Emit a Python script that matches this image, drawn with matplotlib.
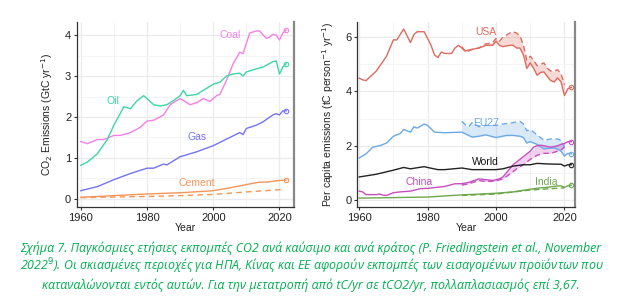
import numpy as np
import matplotlib
matplotlib.use("Agg")
import matplotlib.pyplot as plt
from matplotlib.ticker import MultipleLocator

# ---- fuel emissions (GtC/yr) ----
coal_years = [1960, 1962, 1965, 1967, 1970, 1972, 1975, 1978, 1980, 1982, 1985, 1987, 1990, 1993,
              1995, 1997, 1999, 2001, 2002, 2004, 2006, 2008, 2009, 2010, 2011, 2013, 2014, 2016,
              2017, 2018, 2019, 2020, 2021, 2022]
coal = [1.40, 1.35, 1.45, 1.45, 1.55, 1.55, 1.62, 1.75, 1.90, 1.92, 2.05, 2.30, 2.45, 2.30,
        2.35, 2.45, 2.38, 2.52, 2.55, 2.90, 3.30, 3.58, 3.55, 3.80, 4.05, 4.10, 4.10, 3.92,
        3.95, 4.02, 4.00, 3.88, 4.05, 4.12]

oil_years = [1960, 1962, 1965, 1968, 1970, 1972, 1973, 1975, 1977, 1979, 1980, 1982, 1984, 1986,
             1988, 1990, 1991, 1992, 1995, 1997, 2000, 2002, 2004, 2006, 2008, 2009, 2010, 2012,
             2015, 2018, 2019, 2020, 2021, 2022]
oil = [0.82, 0.90, 1.10, 1.45, 1.80, 2.10, 2.25, 2.20, 2.40, 2.52, 2.45, 2.30, 2.27, 2.30,
       2.40, 2.52, 2.65, 2.52, 2.55, 2.65, 2.80, 2.85, 3.00, 3.05, 3.07, 3.00, 3.10, 3.15,
       3.22, 3.35, 3.37, 3.05, 3.22, 3.30]

gas_years = [1960, 1965, 1970, 1975, 1980, 1982, 1985, 1986, 1990, 1995, 2000, 2005, 2008, 2009,
             2010, 2013, 2015, 2018, 2019, 2020, 2021, 2022]
gas = [0.20, 0.30, 0.47, 0.62, 0.75, 0.75, 0.85, 0.83, 1.03, 1.15, 1.30, 1.50, 1.62, 1.57,
       1.72, 1.80, 1.88, 2.05, 2.08, 2.05, 2.15, 2.15]

cement_years = [1960, 1970, 1980, 1990, 2000, 2005, 2010, 2014, 2016, 2020, 2022]
cement = [0.04, 0.08, 0.12, 0.15, 0.20, 0.27, 0.35, 0.41, 0.41, 0.45, 0.46]
cement_carb_years = [1960, 1980, 1990, 2000, 2010, 2021]
cement_carb = [0.03, 0.06, 0.08, 0.11, 0.17, 0.23]

# ---- per capita emissions (tC/person/yr) ----
usa_years = [1960, 1961, 1962, 1965, 1968, 1970, 1971, 1973, 1974, 1975, 1976, 1977, 1979, 1980,
             1981, 1982, 1983, 1984, 1985, 1987, 1988, 1989, 1990, 1991, 1993, 1995, 1997, 1999,
             2000, 2001, 2002, 2004, 2005, 2006, 2007, 2008, 2009, 2010, 2011, 2012, 2013, 2014,
             2015, 2016, 2017, 2018, 2019, 2020, 2021, 2022]
usa = [4.49, 4.43, 4.40, 4.75, 5.30, 5.90, 5.90, 6.30, 6.05, 5.80, 6.10, 6.20, 6.20, 5.95,
       5.70, 5.35, 5.25, 5.45, 5.40, 5.40, 5.60, 5.70, 5.60, 5.50, 5.55, 5.60, 5.70, 5.70,
       5.85, 5.70, 5.65, 5.70, 5.70, 5.60, 5.60, 5.35, 4.85, 5.05, 4.85, 4.60, 4.70, 4.72,
       4.55, 4.40, 4.35, 4.50, 4.35, 3.85, 4.10, 4.15]
usa_cons_years = [1990, 1991, 1993, 1995, 1997, 1999, 2000, 2001, 2002, 2004, 2005, 2006, 2007,
                  2008, 2009, 2010, 2011, 2012, 2013, 2014, 2015, 2016, 2017, 2018, 2019, 2020]
usa_cons = [5.65, 5.45, 5.55, 5.60, 5.75, 5.80, 5.95, 5.85, 6.00, 6.15, 6.20, 6.15, 6.05,
            5.70, 5.15, 5.30, 5.15, 4.95, 5.00, 5.05, 4.85, 4.75, 4.75, 4.80, 4.65, 4.25]

eu_years = [1960, 1962, 1964, 1966, 1968, 1970, 1972, 1973, 1975, 1976, 1977, 1979, 1980, 1982,
            1985, 1990, 1993, 1995, 1997, 2000, 2003, 2005, 2007, 2008, 2009, 2010, 2012, 2014,
            2015, 2017, 2018, 2019, 2020, 2021, 2022]
eu = [1.55, 1.70, 1.95, 2.00, 2.10, 2.35, 2.45, 2.60, 2.50, 2.70, 2.65, 2.80, 2.75, 2.50,
      2.48, 2.50, 2.32, 2.35, 2.40, 2.30, 2.38, 2.38, 2.35, 2.30, 2.10, 2.15, 2.05, 1.88,
      1.90, 1.92, 1.88, 1.80, 1.62, 1.72, 1.70]
eu_cons_years = [1990, 1991, 1992, 1993, 1995, 1997, 2000, 2002, 2005, 2007, 2008, 2009, 2010,
                 2011, 2012, 2014, 2016, 2018, 2019, 2020]
eu_cons = [2.90, 2.78, 2.70, 2.85, 2.70, 2.75, 2.75, 2.80, 2.85, 2.90, 2.80, 2.55, 2.60,
           2.50, 2.40, 2.20, 2.25, 2.25, 2.20, 1.95]

world_years = [1960, 1965, 1970, 1973, 1975, 1979, 1980, 1983, 1985, 1990, 1993, 1995, 2000, 2002,
               2005, 2008, 2010, 2012, 2015, 2018, 2019, 2020, 2021, 2022]
world = [0.85, 0.95, 1.10, 1.20, 1.15, 1.23, 1.20, 1.12, 1.12, 1.18, 1.12, 1.12, 1.12, 1.15,
         1.25, 1.30, 1.30, 1.35, 1.33, 1.32, 1.32, 1.25, 1.30, 1.30]

china_years = [1960, 1961, 1962, 1965, 1966, 1967, 1968, 1970, 1972, 1975, 1978, 1980, 1985, 1988,
               1990, 1992, 1995, 1997, 1999, 2000, 2001, 2002, 2003, 2004, 2005, 2007, 2008, 2010,
               2011, 2012, 2013, 2014, 2015, 2016, 2017, 2018, 2019, 2020, 2021, 2022]
china = [0.33, 0.30, 0.20, 0.20, 0.22, 0.18, 0.17, 0.27, 0.30, 0.33, 0.42, 0.43, 0.50, 0.60,
         0.60, 0.65, 0.78, 0.75, 0.72, 0.75, 0.78, 0.85, 1.00, 1.15, 1.30, 1.50, 1.60, 1.80,
         1.95, 2.00, 2.02, 2.00, 1.97, 1.95, 1.97, 2.00, 2.05, 2.08, 2.15, 2.15]
china_cons_years = [1990, 1992, 1995, 1997, 2000, 2002, 2004, 2006, 2008, 2010, 2012, 2014, 2016,
                    2018, 2019, 2020]
china_cons = [0.55, 0.60, 0.72, 0.68, 0.70, 0.78, 0.95, 1.15, 1.30, 1.50, 1.65, 1.72, 1.72,
              1.80, 1.85, 1.95]

india_years = [1960, 1970, 1980, 1990, 2000, 2005, 2010, 2013, 2015, 2018, 2019, 2020, 2021, 2022]
india = [0.07, 0.09, 0.11, 0.19, 0.25, 0.30, 0.40, 0.45, 0.47, 0.52, 0.52, 0.47, 0.52, 0.55]
india_cons_years = [1990, 2000, 2010, 2020]
india_cons = [0.17, 0.22, 0.37, 0.45]

caption = [
    "Σχήμα 7. Παγκόσμιες ετήσιες εκπομπές CO2 ανά καύσιμο και ανά κράτος (P. Friedlingstein et al., November",
    "2022$^{9}$). Οι σκιασμένες περιοχές για ΗΠΑ, Κίνας και ΕΕ αφορούν εκπομπές των εισαγομένων προϊόντων που",
    "καταναλώνονται εντός αυτών. Για την μετατροπή από tC/yr σε tCO2/yr, πολλαπλασιασμός επί 3,67.",
]

plt.rcParams["font.family"] = ["Liberation Sans", "DejaVu Sans"]


def style(ax, ymajor):
    ax.set_facecolor("white")
    ax.xaxis.set_major_locator(MultipleLocator(20))
    ax.xaxis.set_minor_locator(MultipleLocator(10))
    ax.yaxis.set_major_locator(MultipleLocator(ymajor))
    ax.yaxis.set_minor_locator(MultipleLocator(ymajor / 2))
    ax.grid(True, which="major", color="#ebebeb", lw=0.9)
    ax.grid(True, which="minor", color="#f3f3f3", lw=0.6)
    ax.set_axisbelow(True)
    ax.spines["top"].set_visible(False)
    ax.spines["right"].set_color("#888888")
    ax.spines["right"].set_linewidth(1.6)
    for s in ("left", "bottom"):
        ax.spines[s].set_color("#333333")
        ax.spines[s].set_linewidth(0.9)
    ax.tick_params(which="major", length=2.5, width=0.8, color="#333333",
                   labelsize=8, labelcolor="#222222", pad=1.5)
    ax.tick_params(which="minor", length=0)
    ax.set_xlabel("Year", fontsize=7.5, labelpad=0, color="#222222")


fig = plt.figure(figsize=(6.4, 3.05), dpi=100)

# left panel: by fuel
ax1 = fig.add_axes([0.120, 0.321, 0.340, 0.607])
fuels = [(coal_years, coal, "#f77fe6"), (oil_years, oil, "#3ed6a2"),
         (gas_years, gas, "#7373f5"), (cement_years, cement, "#f59558")]
for yrs, vals, c in fuels:
    ax1.plot(yrs, vals, color=c, lw=1)
    ax1.plot(yrs[-1], vals[-1], "o", ms=3.2, mfc="none", mec=c, mew=0.8)
ax1.plot(cement_carb_years, cement_carb, color="#f59558", lw=1, ls=(0, (4, 3)))
ax1.text(2005, 4.0, "Coal", color="#f77fe6", fontsize=7.5, ha="center", va="center")
ax1.text(1969.7, 2.4, "Oil", color="#3ed6a2", fontsize=7.5, ha="center", va="center")
ax1.text(1995, 1.5, "Gas", color="#7373f5", fontsize=7.5, ha="center", va="center")
ax1.text(1995, 0.4, "Cement", color="#f59558", fontsize=7.5, ha="center", va="center")
ax1.set_xlim(1958.8, 2024.5)
ax1.set_ylim(-0.2, 4.32)
style(ax1, 1)
ax1.set_ylabel("CO$_2$ Emissions (GtC yr$^{-1}$)", fontsize=7.5, labelpad=7, color="#222222")

# right panel: per capita
ax2 = fig.add_axes([0.558, 0.321, 0.340, 0.607])
series = [
    (usa_years, usa, usa_cons_years, usa_cons, "#e06a5e"),
    (eu_years, eu, eu_cons_years, eu_cons, "#6aaae6"),
    (china_years, china, china_cons_years, china_cons, "#c64fc0"),
    (india_years, india, india_cons_years, india_cons, "#6ea84e"),
]
for yrs, vals, cyrs, cvals, c in series:
    ax2.plot(yrs, vals, color=c, lw=1)
    ax2.plot(cyrs, cvals, color=c, lw=1, ls=(0, (4, 2.5)))
    prod_interp = np.interp(cyrs, yrs, vals)
    ax2.fill_between(cyrs, prod_interp, cvals, color=c, alpha=0.25, lw=0)
    ax2.plot(yrs[-1], vals[-1], "o", ms=3.2, mfc="none", mec=c, mew=0.8)
ax2.plot(world_years, world, color="#222222", lw=1)
ax2.plot(world_years[-1], world[-1], "o", ms=3.2, mfc="none", mec="#222222", mew=0.8)
ax2.text(1997, 6.2, "USA", color="#e06a5e", fontsize=7.5, ha="center", va="center")
ax2.text(1997, 2.83, "EU27", color="#6aaae6", fontsize=7.5, ha="center", va="center")
ax2.text(1997, 1.4, "World", color="#111111", fontsize=7.5, ha="center", va="center")
ax2.text(1977.6, 0.68, "China", color="#c64fc0", fontsize=7.5, ha="center", va="center")
ax2.text(2014.7, 0.68, "India", color="#6ea84e", fontsize=7.5, ha="center", va="center")
ax2.set_xlim(1959.4, 2023.0)
ax2.set_ylim(-0.26, 6.56)
style(ax2, 2)
ax2.set_ylabel("Per capita emissions (tC person$^{-1}$ yr$^{-1}$)", fontsize=7.5,
               labelpad=7, color="#222222")

# caption
cap_kw = dict(fontsize=8.9, style="italic", color="#00b050",
              family=["Open Sans", "DejaVu Sans"])
fig.text(20 / 640, 1 - 248 / 305, caption[0], ha="left", va="center", **cap_kw)
fig.text(20 / 640, 1 - 266 / 305, caption[1], ha="left", va="center", **cap_kw)
fig.text(311 / 640, 1 - 285 / 305, caption[2], ha="center", va="center", **cap_kw)

fig.savefig("out.png", dpi=100, facecolor="white")
